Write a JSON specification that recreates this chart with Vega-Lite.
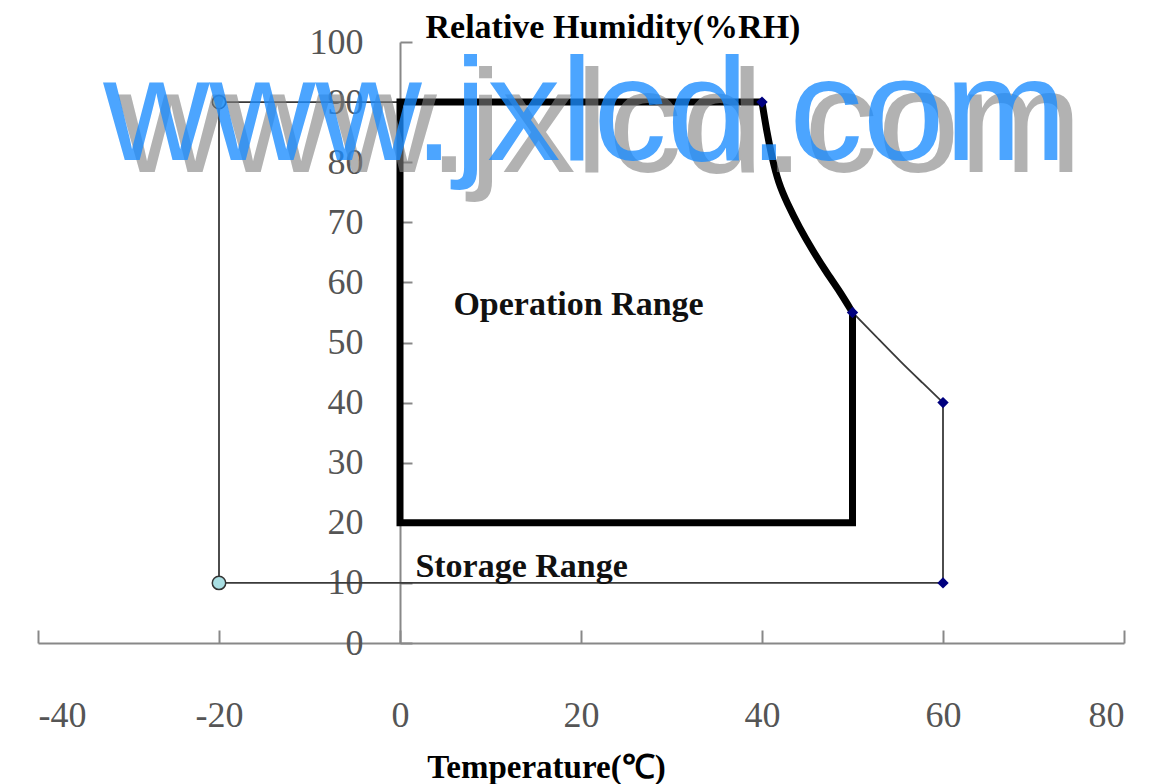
{
  "$schema": "https://vega.github.io/schema/vega-lite/v6.json",
  "width": 1086,
  "height": 601,
  "autosize": {"type": "none"},
  "padding": {"left": 38, "top": 42, "right": 25, "bottom": 141},
  "background": "white",
  "config": {"view": {"stroke": null}},
  "datasets": {
    "st_straight": [
      {"i": 0, "t": 60, "h": 40},
      {"i": 1, "t": 60, "h": 10},
      {"i": 2, "t": -20, "h": 10},
      {"i": 3, "t": -20, "h": 90},
      {"i": 4, "t": 40, "h": 90}
    ],
    "st_curve": [
      {"i": 0, "t": 50, "h": 55},
      {"i": 1, "t": 52.6, "h": 51},
      {"i": 2, "t": 55.3, "h": 46.8},
      {"i": 3, "t": 57.8, "h": 43.2},
      {"i": 4, "t": 60, "h": 40}
    ],
    "op_straight": [
      {"i": 0, "t": 50, "h": 55},
      {"i": 1, "t": 50, "h": 20},
      {"i": 2, "t": 0, "h": 20},
      {"i": 3, "t": 0, "h": 90},
      {"i": 4, "t": 40, "h": 90}
    ],
    "op_curve": [
      {"i": 0, "t": 40, "h": 90},
      {"i": 1, "t": 40.5, "h": 85.3},
      {"i": 2, "t": 41.1, "h": 80.8},
      {"i": 3, "t": 41.8, "h": 76.6},
      {"i": 4, "t": 42.8, "h": 73.1},
      {"i": 5, "t": 44.1, "h": 69.2},
      {"i": 6, "t": 45.6, "h": 65.3},
      {"i": 7, "t": 47.1, "h": 61.7},
      {"i": 8, "t": 48.6, "h": 58.5},
      {"i": 9, "t": 50, "h": 55}
    ],
    "circles": [
      {"t": -20, "h": 90},
      {"t": -20, "h": 10}
    ],
    "diamonds": [
      {"t": 40, "h": 90},
      {"t": 50, "h": 55},
      {"t": 60, "h": 40},
      {"t": 60, "h": 10}
    ],
    "labels": [
      {"t": 5.9, "h": 54.6, "label": "Operation Range"},
      {"t": 1.7, "h": 11.0, "label": "Storage Range"}
    ],
    "watermark": [
      {"t": -32.8, "h": 80.4, "label": "www.jxlcd.com"}
    ]
  },
  "encoding": {
    "x": {
      "field": "t",
      "type": "quantitative",
      "scale": {"domain": [-40, 80], "nice": false, "zero": false},
      "axis": {
        "orient": "bottom",
        "values": [-40, -20, 0, 20, 40, 60, 80],
        "labelExpr": "toString(datum.value)",
        "grid": false,
        "tickSize": -13,
        "tickWidth": 2,
        "tickColor": "#888888",
        "domainColor": "#888888",
        "domainWidth": 2,
        "labelFont": "Liberation Serif",
        "labelFontSize": 36,
        "labelColor": "#555555",
        "labelPadding": 68,
        "labelBaseline": "top",
        "title": "Temperature(℃)",
        "titleFont": "Liberation Serif",
        "titleFontWeight": "bold",
        "titleFontSize": 33,
        "titleColor": "#000000",
        "titleAlign": "center",
        "titleBaseline": "alphabetic",
        "titleX": 508,
        "titleY": 134
      }
    },
    "y": {
      "field": "h",
      "type": "quantitative",
      "scale": {"domain": [0, 100], "nice": false},
      "axis": {
        "orient": "left",
        "offset": -362,
        "values": [0, 10, 20, 30, 40, 50, 60, 70, 80, 90, 100],
        "grid": false,
        "tickSize": -12,
        "tickWidth": 2,
        "tickColor": "#888888",
        "domainColor": "#888888",
        "domainWidth": 2,
        "labelFont": "Liberation Serif",
        "labelFontSize": 36,
        "labelColor": "#555555",
        "labelPadding": 49,
        "title": "Relative Humidity(%RH)",
        "titleFont": "Liberation Serif",
        "titleFontWeight": "bold",
        "titleFontSize": 34,
        "titleColor": "#000000",
        "titleAngle": 0,
        "titleAlign": "left",
        "titleBaseline": "alphabetic",
        "titleX": 25,
        "titleY": -5
      }
    }
  },
  "layer": [
    {
      "data": {"name": "st_straight"},
      "mark": {"type": "line", "color": "#3a3a3a", "strokeWidth": 1.8},
      "encoding": {"order": {"field": "i", "type": "quantitative"}}
    },
    {
      "data": {"name": "st_curve"},
      "mark": {"type": "line", "color": "#3a3a3a", "strokeWidth": 1.8, "interpolate": "basis"},
      "encoding": {"order": {"field": "i", "type": "quantitative"}}
    },
    {
      "data": {"name": "op_straight"},
      "mark": {"type": "line", "color": "#000000", "strokeWidth": 7, "strokeJoin": "miter", "strokeCap": "butt"},
      "encoding": {"order": {"field": "i", "type": "quantitative"}}
    },
    {
      "data": {"name": "op_curve"},
      "mark": {"type": "line", "color": "#000000", "strokeWidth": 7, "strokeCap": "round", "interpolate": "basis"},
      "encoding": {"order": {"field": "i", "type": "quantitative"}}
    },
    {
      "data": {"name": "circles"},
      "mark": {"type": "point", "shape": "circle", "filled": true, "fill": "#a9dfe3", "stroke": "#333333", "strokeWidth": 1.5, "size": 180, "opacity": 1}
    },
    {
      "data": {"name": "diamonds"},
      "mark": {"type": "point", "shape": "diamond", "filled": true, "color": "#00007f", "size": 130, "opacity": 1}
    },
    {
      "data": {"name": "labels"},
      "mark": {"type": "text", "align": "left", "baseline": "alphabetic", "font": "Liberation Serif", "fontWeight": "bold", "fontSize": 34, "color": "#111111"},
      "encoding": {"text": {"field": "label"}}
    },
    {
      "data": {"name": "watermark"},
      "mark": {"type": "text", "align": "left", "baseline": "alphabetic", "font": "Liberation Sans", "fontSize": 147, "color": "#808080", "opacity": 0.6, "dx": 15, "dy": 12},
      "encoding": {"text": {"field": "label"}}
    },
    {
      "data": {"name": "watermark"},
      "mark": {"type": "text", "align": "left", "baseline": "alphabetic", "font": "Liberation Sans", "fontSize": 147, "color": "#1a8cff", "opacity": 0.78},
      "encoding": {"text": {"field": "label"}}
    }
  ]
}
